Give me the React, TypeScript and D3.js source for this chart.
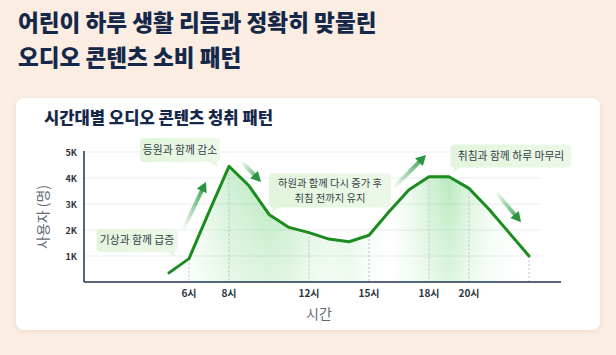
import React from "react";
import * as d3 from "d3";

const hours = [5, 6, 7, 8, 9, 10, 11, 12, 13, 14, 15, 16, 17, 18, 19, 20, 21, 22, 23];
const users = [350, 900, 2700, 4450, 3700, 2600, 2100, 1900, 1650, 1550, 1800, 2700, 3550, 4050, 4050, 3600, 2800, 1900, 1000];
const xTickHours = [6, 8, 12, 15, 18, 20];
const xTickLabels = ["6시", "8시", "12시", "15시", "18시", "20시"];
const dropHours = [6, 8, 12, 15, 18, 20, 23];
const yTicks = [1000, 2000, 3000, 4000, 5000];
const yTickLabels = ["1K", "2K", "3K", "4K", "5K"];

const titleLines = ["어린이 하루 생활 리듬과 정확히 맞물린", "오디오 콘텐츠 소비 패턴"];
const subtitle = "시간대별 오디오 콘텐츠 청취 패턴";
const xLabel = "시간";
const yLabel = "사용자 (명)";

// annotations: [centerHour, centerValue, width, height, tail side]
const noteTexts = [["기상과 함께 급증"], ["등원과 함께 감소"], ["하원과 함께 다시 증가 후", "취침 전까지 유지"], ["취침과 함께 하루 마무리"]];
const noteCenters = [[3.4, 1600], [5.55, 5080], [13.05, 3520], [22.1, 4850]];
const noteSizes = [[81, 23], [80, 24], [122, 34], [121, 23]];
const noteTails = ["right", "right", "left", "left"];

// arrows: [fromHour, fromValue, toHour, toValue]
const arrows = [
  [5.7, 2000, 6.85, 3850],
  [8.6, 4650, 9.6, 3850],
  [16.2, 3600, 17.85, 4880],
  [21.3, 3500, 22.6, 2300],
];

const FONT = "'Noto Sans CJK KR', 'Noto Sans', sans-serif";

export default function App() {
  React.useEffect(() => {
    document.body.style.margin = "0";
  }, []);

  const W = 616, H = 355;
  const x = d3.scaleLinear().domain([5, 23]).range([169, 529]);
  const y = d3.scaleLinear().domain([0, 5000]).range([282, 152]);
  const plotLeft = 84, plotRight = 561, gridRight = 541;

  const pts = hours.map((h, i) => [h, users[i]] as [number, number]);
  const line = d3.line<[number, number]>().x(d => x(d[0])).y(d => y(d[1]));
  const area = d3.area<[number, number]>().x(d => x(d[0])).y0(y(0)).y1(d => y(d[1]));
  const valAt = (h: number) => users[hours.indexOf(h)];

  // horizontal band opacities for the area gradient (hour, opacity)
  const bandStops: [number, number][] = [
    [5, 0], [6, 0.05], [7, 0.15], [8, 0.26], [9, 0.32], [10, 0.38], [11, 0.32], [12, 0.2],
    [13, 0.14], [14, 0.18], [15, 0.07], [16, 0.0], [17, 0.1], [18, 0.24], [19, 0.38], [20, 0.2], [21, 0.08], [22.5, 0.0], [23, 0],
  ];

  return (
    <div style={{ position: "absolute", left: 0, top: 0 }}>
      <svg width={W} height={H} style={{ display: "block", fontFamily: FONT }}>
        <defs>
          <linearGradient id="bandGrad" gradientUnits="userSpaceOnUse" x1={x(5)} x2={x(23)} y1={0} y2={0}>
            {bandStops.map(([h, o], i) => (
              <stop key={i} offset={(x(h) - x(5)) / (x(23) - x(5))} stopColor="#3cc24a" stopOpacity={o} />
            ))}
          </linearGradient>
          <linearGradient id="vFade" x1="0" x2="0" y1="0" y2="1">
            <stop offset="0" stopColor="#fff" stopOpacity={1} />
            <stop offset="1" stopColor="#fff" stopOpacity={0.45} />
          </linearGradient>
          <mask id="areaMask" maskUnits="userSpaceOnUse" x={0} y={0} width={W} height={H}>
            <rect x={plotLeft} y={y(4600)} width={plotRight - plotLeft} height={y(0) - y(4600)} fill="url(#vFade)" />
          </mask>
          <filter id="cardShadow" x="-5%" y="-5%" width="110%" height="115%">
            <feDropShadow dx="0" dy="1" stdDeviation="2" floodColor="#b9a48f" floodOpacity="0.25" />
          </filter>
          {arrows.map((a, i) => (
            <linearGradient key={i} id={`arrowGrad${i}`} gradientUnits="userSpaceOnUse"
              x1={x(a[0])} y1={y(a[1])} x2={x(a[2])} y2={y(a[3])}>
              <stop offset="0" stopColor="#2e9e46" stopOpacity={0} />
              <stop offset="0.6" stopColor="#2e9e46" stopOpacity={0.6} />
              <stop offset="1" stopColor="#2a9440" stopOpacity={1} />
            </linearGradient>
          ))}
          <linearGradient id="noteGrad" x1="0" x2="1" y1="0" y2="0">
            <stop offset="0" stopColor="#e2f5dc" />
            <stop offset="1" stopColor="#edf8e8" />
          </linearGradient>
        </defs>

        <rect x={0} y={0} width={W} height={H} fill="#fbede2" />

        {titleLines.map((t, i) => (
          <text key={i} x={18} y={30.5 + i * 35} fontSize={22.6} fontWeight={900} fill="#15284a">{t}</text>
        ))}

        <rect x={16} y={98} width={584} height={232} rx={8} fill="#ffffff" filter="url(#cardShadow)" />

        <text x={44} y={123.5} fontSize={16.6} fontWeight={800} fill="#15284a">{subtitle}</text>

        {/* grid */}
        {yTicks.map((t, i) => (
          <line key={i} x1={plotLeft} x2={gridRight} y1={y(t)} y2={y(t)} stroke="#e9eef0" strokeWidth={1} />
        ))}

        {/* area */}
        <path d={area(pts) || ""} fill="url(#bandGrad)" mask="url(#areaMask)" />

        {/* drop lines */}
        {dropHours.map((h, i) => (
          <line key={i} x1={x(h)} x2={x(h)} y1={y(valAt(h))} y2={y(0)} stroke="#b9c2c6" strokeWidth={1} strokeDasharray="2,2" />
        ))}

        {/* axes */}
        <line x1={plotLeft} x2={plotLeft} y1={y(5000) - 1} y2={y(0)} stroke="#1f3550" strokeWidth={1.5} />
        <line x1={plotLeft} x2={plotRight} y1={y(0)} y2={y(0)} stroke="#1f3550" strokeWidth={1.5} />

        {yTicks.map((t, i) => (
          <text key={i} x={77} y={y(t) + 3.5} textAnchor="end" fontSize={9} fontWeight={700} fill="#2b3440">{yTickLabels[i]}</text>
        ))}
        {xTickHours.map((h, i) => (
          <text key={i} x={x(h)} y={297} textAnchor="middle" fontSize={10} fontWeight={700} fill="#2b3440">{xTickLabels[i]}</text>
        ))}

        <text x={319} y={319} textAnchor="middle" fontSize={14} fill="#5f6b76">{xLabel}</text>
        <text transform={`translate(48, ${217}) rotate(-90)`} textAnchor="middle" fontSize={14} fill="#5f6b76">{yLabel}</text>

        {/* line */}
        <path d={line(pts) || ""} fill="none" stroke="#1b8c1f" strokeWidth={3} strokeLinejoin="round" strokeLinecap="round" />

        {/* arrows */}
        {arrows.map((a, i) => {
          const x1 = x(a[0]), y1 = y(a[1]), x2 = x(a[2]), y2 = y(a[3]);
          const ang = Math.atan2(y2 - y1, x2 - x1);
          const hl = 10, hw = 5.5;
          const bx = x2 - hl * Math.cos(ang), by = y2 - hl * Math.sin(ang);
          const px = -Math.sin(ang), py = Math.cos(ang);
          const head = `M${x2},${y2} L${bx + px * hw},${by + py * hw} L${bx - px * hw},${by - py * hw} Z`;
          return (
            <g key={i}>
              <line x1={x1} y1={y1} x2={bx + Math.cos(ang)} y2={by + Math.sin(ang)} stroke={`url(#arrowGrad${i})`} strokeWidth={4} />
              <path d={head} fill="#2a9440" />
            </g>
          );
        })}

        {/* notes */}
        {noteTexts.map((lines, i) => {
          const cx = x(noteCenters[i][0]), cy = y(noteCenters[i][1]);
          const [w, h] = noteSizes[i];
          const left = cx - w / 2, top = cy - h / 2;
          const tail = noteTails[i] === "right"
            ? `M${left + w - 12},${top + h - 1} L${left + w - 2},${top + h + 5} L${left + w - 4},${top + h - 1} Z`
            : `M${left + 12},${top + h - 1} L${left + 2},${top + h + 5} L${left + 4},${top + h - 1} Z`;
          const fs = lines.length > 1 ? 10.3 : 10.8;
          const lh = 15;
          return (
            <g key={i}>
              <rect x={left} y={top} width={w} height={h} rx={4} fill="url(#noteGrad)" />
              <path d={tail} fill="#e6f6e0" />
              {lines.map((t, j) => (
                <text key={j} x={cx} y={cy + 3.7 + (j - (lines.length - 1) / 2) * lh} textAnchor="middle" fontSize={fs} fill="#34404a">{t}</text>
              ))}
            </g>
          );
        })}
      </svg>
    </div>
  );
}
